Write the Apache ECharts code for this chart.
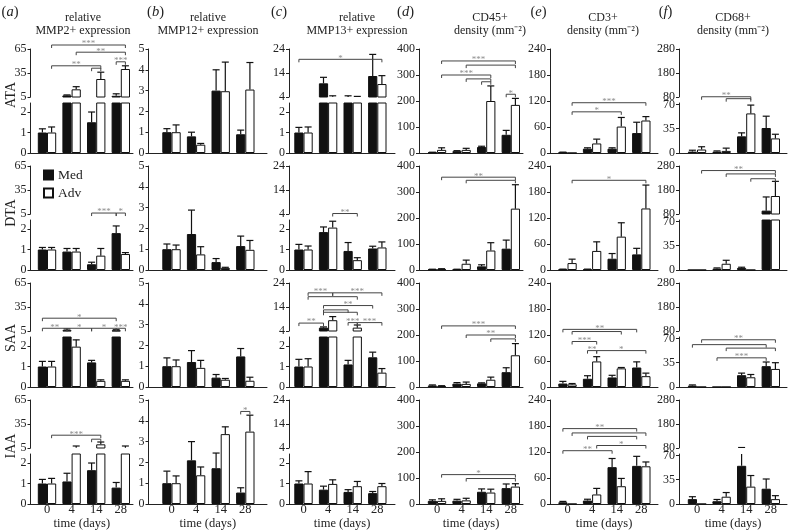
<!DOCTYPE html>
<html><head><meta charset="utf-8">
<script src="https://cdn.jsdelivr.net/npm/echarts@6/dist/echarts.min.js"></script>
<style>html,body{margin:0;padding:0;background:#fff}#c{width:789px;height:531px}</style>
</head><body><div id="c"></div><script>
// ---------------- DATA ----------------
const categories = ['0', '4', '14', '28'];
const rowNames = ['ATA', 'DTA', 'SAA', 'IAA'];
const groupNames = ['Med', 'Adv'];
const panelLetters = ['a', 'b', 'c', 'd', 'e', 'f'];
const panelTitles = [
  ['relative', 'MMP2+ expression'],
  ['relative', 'MMP12+ expression'],
  ['relative', 'MMP13+ expression'],
  ['CD45+', 'density (mm⁻²)'],
  ['CD3+', 'density (mm⁻²)'],
  ['CD68+', 'density (mm⁻²)']
];
const xAxisTitle = 'time (days)';

// (a) MMP2  (rows: ATA, DTA, SAA, IAA; cols: days 0,4,14,28)
const mmp2Med    = [[1.0, 7.0, 1.5, 6.5], [1.0, 0.9, 0.28, 1.8], [1.0, 6.0, 1.2, 5.8], [1.0, 1.1, 1.65, 0.8]];
const mmp2MedErr = [[0.18, 0.6, 0.5, 2.5], [0.1, 0.15, 0.1, 0.35], [0.25, 1.5, 0.1, 0.8], [0.2, 0.4, 0.35, 0.25]];
const mmp2Adv    = [[1.0, 14.6, 27.5, 40], [1.0, 0.9, 0.7, 0.78], [1.0, 1.97, 0.3, 0.3], [1.0, 5.3, 9.6, 5.4]];
const mmp2AdvErr = [[0.27, 3.3, 8.5, 4], [0.1, 0.15, 0.35, 0.07], [0.25, 0.33, 0.05, 0.05], [0.25, 2.2, 2.9, 2.1]];
const mmp2LowTicks = [0, 1, 2];
const mmp2UpTicks = [5, 35, 65];

// (b) MMP12
const mmp12Med    = [[1.0, 0.8, 3.0, 0.9], [1.0, 1.73, 0.38, 1.15], [1.0, 1.2, 0.45, 1.47], [1.0, 2.1, 1.72, 0.55]];
const mmp12MedErr = [[0.17, 0.2, 1.0, 0.2], [0.25, 1.15, 0.17, 0.48], [0.4, 0.55, 0.15, 0.38], [0.58, 0.9, 0.73, 0.23]];
const mmp12Adv    = [[1.0, 0.4, 2.97, 3.05], [1.0, 0.75, 0.1, 0.97], [1.0, 0.92, 0.35, 0.3], [1.0, 1.38, 3.36, 3.48]];
const mmp12AdvErr = [[0.35, 0.06, 1.4, 1.3], [0.2, 0.37, 0.03, 0.45], [0.3, 0.36, 0.06, 0.17], [0.35, 0.4, 0.35, 0.79]];
const mmp12Ticks = [0, 1, 2, 3, 4, 5];

// (c) MMP13
const mmp13Med    = [[1.0, 9.7, 4.0, 12.75], [1.0, 1.85, 0.93, 1.05], [1.0, 5.4, 1.1, 1.45], [1.0, 0.7, 0.59, 0.53]];
const mmp13MedErr = [[0.25, 2.5, 0.5, 9.0], [0.25, 0.25, 0.41, 0.11], [0.35, 0.3, 0.2, 0.25], [0.13, 0.17, 0.11, 0.08]];
const mmp13Adv    = [[1.0, 4.1, 4.1, 9.4], [1.0, 2.07, 0.48, 1.1], [1.0, 8.5, 5.4, 0.7], [1.0, 0.98, 0.87, 0.87]];
const mmp13AdvErr = [[0.27, 0.4, 0.15, 3.5], [0.17, 0.31, 0.12, 0.27], [0.38, 1.5, 1.1, 0.2], [0.58, 0.2, 0.23, 0.13]];
const mmp13LowTicks = [0, 1, 2];
const mmp13UpTicks = [4, 14, 24];

// (d) CD45+
const cd45Med    = [[2, 7, 23, 70], [2, 2, 14, 82], [6, 13, 14, 57], [12, 13, 47, 61]];
const cd45MedErr = [[1, 2, 3, 17], [1, 1, 6, 33], [2, 4, 2, 17], [4, 5, 11, 16]];
const cd45Adv    = [[12, 12, 200, 185], [3, 24, 75, 236], [4, 12, 28, 122], [12, 14, 44, 67]];
const cd45AdvErr = [[8, 6, 58, 25], [2, 14, 30, 92], [1, 7, 10, 45], [8, 8, 13, 11]];
const cd45Ticks = [0, 100, 200, 300, 400];

// (e) CD3+
const cd3Med    = [[1, 10, 10, 46], [1, 1, 26, 36], [8, 19, 22, 45], [4, 8, 85, 88]];
const cd3MedErr = [[1, 2, 2, 25], [1, 1, 12, 14], [5, 7, 5, 13], [2, 3, 20, 22]];
const cd3Adv    = [[0, 22, 61, 75], [16, 44, 77, 142], [6, 59, 43, 25], [0, 22, 41, 87]];
const cd3AdvErr = [[0, 10, 21, 9], [9, 21, 32, 54], [2, 11, 2, 7], [0, 14, 18, 10]];
const cd3Ticks = [0, 60, 120, 180, 240];

// (f) CD68+
const cd68Med    = [[2, 2, 24, 36], [0, 2, 3, 94], [2, 0, 17, 30], [7, 4, 55, 22]];
const cd68MedErr = [[2, 1, 5, 17], [0, 1, 1, 57], [1, 0, 3, 6], [3.5, 2.5, 27, 14]];
const cd68Adv    = [[5, 3, 57, 21], [0, 9, 0, 155], [0, 0, 14, 26], [0, 10.5, 25, 7]];
const cd68AdvErr = [[4, 4, 12, 6], [0, 5, 0, 61], [0, 0, 4, 9], [0, 6, 16, 5]];
const cd68LowTicks = [0, 35, 70];
const cd68UpTicks = [80, 180, 280];

// significance brackets: [row, group1, day1, group2, day2, height, label]
const mmp2Sig = [
  [0, 'A', 0, 'A', 3, 70, '***'], [0, 'A', 1, 'A', 3, 61, '**'], [0, 'A', 0, 'A', 2, 44, '**'],
  [0, 'M', 2, 'A', 2, 41, ''], [0, 'M', 3, 'A', 3, 49, '***'],
  [1, 'M', 2, 'M', 3, 6.2, '***'], [1, 'M', 3, 'A', 3, 6.2, '*'],
  [2, 'M', 0, 'M', 3, 21, '*'], [2, 'M', 0, 'M', 1, 8.4, '**'], [2, 'M', 1, 'M', 2, 8.4, '*'],
  [2, 'M', 2, 'M', 3, 8.4, '*'], [2, 'M', 3, 'A', 3, 8.4, '***'],
  [3, 'A', 0, 'A', 2, 21, '***'], [3, 'M', 2, 'A', 2, 16, '']
];
const mmp12Sig = [[3, 'M', 3, 'A', 3, 4.45, '*']];
const mmp13Sig = [
  [0, 'M', 0, 'A', 3, 19.7, '*'],
  [1, 'A', 1, 'A', 2, 4.2, '**'],
  [2, 'A', 0, 'A', 1, 19.9, '***'], [2, 'A', 1, 'A', 3, 19.9, '***'], [2, 'A', 0, 'A', 2, 18.3, ''],
  [2, 'M', 1, 'M', 3, 14.6, '**'], [2, 'M', 1, 'M', 2, 12.8, ''], [2, 'M', 1, 'A', 2, 11.8, ''],
  [2, 'M', 0, 'M', 1, 7.3, '**'], [2, 'M', 2, 'A', 2, 7.5, '***'], [2, 'A', 2, 'A', 3, 7.5, '***']
];
const cd45Sig = [
  [0, 'A', 0, 'A', 3, 354, '***'], [0, 'A', 1, 'A', 3, 338, ''], [0, 'A', 0, 'A', 2, 300, '***'],
  [0, 'A', 1, 'A', 2, 285, ''], [0, 'M', 2, 'A', 2, 274, ''], [0, 'M', 3, 'A', 3, 226, '*'],
  [1, 'A', 0, 'A', 3, 357, '**'], [1, 'A', 1, 'A', 3, 345, ''],
  [2, 'A', 0, 'A', 3, 235, '***'], [2, 'A', 1, 'A', 3, 200, '**'], [2, 'A', 2, 'A', 3, 185, ''],
  [3, 'A', 0, 'A', 3, 113, '*'], [3, 'A', 1, 'A', 3, 98, '']
];
const cd3Sig = [
  [0, 'A', 0, 'A', 3, 116, '***'], [0, 'A', 0, 'A', 2, 95, '*'],
  [1, 'A', 0, 'A', 3, 207, '*'],
  [2, 'M', 0, 'M', 3, 133, '**'], [2, 'A', 0, 'A', 2, 128, ''], [2, 'A', 0, 'A', 1, 105, '***'],
  [2, 'M', 1, 'A', 1, 84, '**'], [2, 'A', 1, 'A', 3, 84, '*'],
  [3, 'M', 0, 'M', 3, 174, '**'], [3, 'A', 0, 'A', 3, 164, ''], [3, 'M', 1, 'M', 3, 156, ''],
  [3, 'A', 1, 'A', 3, 135, '*'], [3, 'M', 0, 'M', 2, 123, '**']
];
const cd68Sig = [
  [0, 'A', 0, 'A', 2, 81, '**'], [0, 'A', 1, 'A', 2, 73, ''],
  [1, 'A', 0, 'A', 3, 261, '**'], [1, 'A', 1, 'A', 3, 247, ''], [1, 'A', 2, 'A', 3, 227, ''],
  [2, 'A', 0, 'A', 3, 68, '**'], [2, 'M', 0, 'M', 3, 61, ''], [2, 'A', 1, 'A', 3, 56, ''],
  [2, 'M', 1, 'M', 3, 42, '***']
];

// ---------------- LAYOUT ----------------
const FONT = 'Liberation Serif';
const rowTop = [49, 166, 283, 400];
const rowH = 104;
const colAxisX = [30.5, 148.5, 289, 419, 550, 679];
const colFirst = [47, 171.5, 303.5, 437, 567.5, 697];
const colRight = [133, 267, 395, 523, 658, 787];
const SP = 24.6;          // px between day groups
const HALF = 4.6;         // px half bar width
const D = HALF / SP;

const columns = [
  {med: mmp2Med, medErr: mmp2MedErr, adv: mmp2Adv, advErr: mmp2AdvErr, sig: mmp2Sig,
   broken: true, lowMax: 2.44, lowTicks: mmp2LowTicks, upTicks: mmp2UpTicks},
  {med: mmp12Med, medErr: mmp12MedErr, adv: mmp12Adv, advErr: mmp12AdvErr, sig: mmp12Sig,
   broken: false, ticks: mmp12Ticks},
  {med: mmp13Med, medErr: mmp13MedErr, adv: mmp13Adv, advErr: mmp13AdvErr, sig: mmp13Sig,
   broken: true, lowMax: 2.44, lowTicks: mmp13LowTicks, upTicks: mmp13UpTicks},
  {med: cd45Med, medErr: cd45MedErr, adv: cd45Adv, advErr: cd45AdvErr, sig: cd45Sig,
   broken: false, ticks: cd45Ticks},
  {med: cd3Med, medErr: cd3MedErr, adv: cd3Adv, advErr: cd3AdvErr, sig: cd3Sig,
   broken: false, ticks: cd3Ticks},
  {med: cd68Med, medErr: cd68MedErr, adv: cd68Adv, advErr: cd68AdvErr, sig: cd68Sig,
   broken: true, lowMax: 72, lowTicks: cd68LowTicks, upTicks: cd68UpTicks}
];

const grid = [], xAxis = [], yAxis = [], series = [];

function addGrid(ci, top, height, yMin, yMax, ticks, showXLine, showXLabels) {
  const idx = grid.length;
  const left = colAxisX[ci], width = colRight[ci] - colAxisX[ci];
  const xmin = -(colFirst[ci] - colAxisX[ci]) / SP;
  const xmax = 3 + (colRight[ci] - colFirst[ci] - 3 * SP) / SP;
  grid.push({left: left, top: top, width: width, height: height, containLabel: false, outerBoundsMode: 'none'});
  xAxis.push({
    gridIndex: idx, type: 'value', min: xmin, max: xmax, show: showXLine,
    axisLine: {show: true, onZero: false, lineStyle: {color: '#222', width: 1}},
    axisTick: {show: false}, splitLine: {show: false},
    axisLabel: {show: showXLabels, customValues: [0, 1, 2, 3],
      formatter: v => categories[Math.round(v)] || '',
      fontFamily: FONT, fontSize: 12.5, color: '#222', margin: -1},
    name: showXLabels ? xAxisTitle : '', nameLocation: 'middle', nameGap: 8,
    nameTextStyle: {fontFamily: FONT, fontSize: 12.5, color: '#222'}
  });
  yAxis.push({
    gridIndex: idx, type: 'value', min: yMin, max: yMax,
    axisLine: {show: true, onZero: false, lineStyle: {color: '#222', width: 1}},
    axisTick: {show: true, inside: false, length: 3, customValues: ticks, lineStyle: {color: '#222'}},
    axisLabel: {customValues: ticks, fontFamily: FONT, fontSize: 12, color: '#222', margin: 4},
    splitLine: {show: false}
  });
  return idx;
}

function addBars(gi, col, r) {
  series.push({
    type: 'bar', name: groupNames[0], xAxisIndex: gi, yAxisIndex: gi, barWidth: HALF * 2, barGap: '-100%',
    clip: true, silent: true,
    itemStyle: {color: '#111', borderColor: '#111', borderWidth: 1},
    data: col.med[r].map((v, k) => [k - D, v])
  });
  series.push({
    type: 'bar', name: groupNames[1], xAxisIndex: gi, yAxisIndex: gi, barWidth: HALF * 2, barGap: '-100%',
    clip: true, silent: true,
    itemStyle: {color: '#fff', borderColor: '#111', borderWidth: 1},
    data: col.adv[r].map((v, k) => [k + D, v])
  });
  const errData = [];
  col.med[r].forEach((v, k) => errData.push([k - D, v, col.medErr[r][k]]));
  col.adv[r].forEach((v, k) => errData.push([k + D, v, col.advErr[r][k]]));
  series.push({
    type: 'custom', xAxisIndex: gi, yAxisIndex: gi, clip: true, silent: true, z: 3,
    encode: {x: 0, y: 1},
    data: errData,
    renderItem: (params, api) => {
      const x = api.value(0), v = api.value(1), e = api.value(2);
      if (!(e > 0)) return null;
      const p0 = api.coord([x, v]), p1 = api.coord([x, v + e]);
      return {type: 'group', children: [
        {type: 'line', shape: {x1: p0[0], y1: p0[1], x2: p1[0], y2: p1[1]}, style: {stroke: '#111', lineWidth: 1.2}},
        {type: 'line', shape: {x1: p1[0] - 3.5, y1: p1[1], x2: p1[0] + 3.5, y2: p1[1]}, style: {stroke: '#111', lineWidth: 1.2}}
      ]};
    }
  });
}

function addBrackets(gi, list) {
  if (!list.length) return;
  const labels = list.map(b => b[6]);
  series.push({
    type: 'custom', xAxisIndex: gi, yAxisIndex: gi, clip: false, silent: true, z: 4,
    encode: {x: [0, 1], y: 2},
    data: list.map(b => [b[2] + (b[1] === 'M' ? -D : D), b[4] + (b[3] === 'M' ? -D : D), b[5]]),
    renderItem: (params, api) => {
      const p1 = api.coord([api.value(0), api.value(2)]);
      const p2 = api.coord([api.value(1), api.value(2)]);
      const y = p1[1];
      const children = [{
        type: 'polyline',
        shape: {points: [[p1[0], y + 3], [p1[0], y], [p2[0], y], [p2[0], y + 3]]},
        style: {stroke: '#444', lineWidth: 1, fill: null}
      }];
      const lab = labels[params.dataIndex];
      if (lab) children.push({
        type: 'text', x: (p1[0] + p2[0]) / 2, y: y - 1,
        style: {text: lab, fill: '#8c8c8c', font: '9px "Liberation Serif"',
          textAlign: 'center', textVerticalAlign: 'middle', align: 'center', verticalAlign: 'middle'}
      });
      return {type: 'group', children: children};
    }
  });
}

columns.forEach((col, ci) => {
  for (let r = 0; r < 4; r++) {
    const bottom = r === 3;
    const sigs = col.sig.filter(s => s[0] === r);
    if (col.broken) {
      const up = col.upTicks;
      const iu = addGrid(ci, rowTop[r], 48, up[0], up[up.length - 1], up, false, false);
      const il = addGrid(ci, rowTop[r] + 54, 50, 0, col.lowMax, col.lowTicks, true, bottom);
      addBars(iu, col, r);
      addBars(il, col, r);
      addBrackets(iu, sigs.filter(s => s[5] >= col.lowMax));
      addBrackets(il, sigs.filter(s => s[5] < col.lowMax));
    } else {
      const t = col.ticks;
      const ig = addGrid(ci, rowTop[r], rowH, 0, t[t.length - 1], t, true, bottom);
      addBars(ig, col, r);
      addBrackets(ig, sigs);
    }
  }
});

// ---------------- TEXT ----------------
const graphic = [];
const letterX = [10, 155.5, 279, 405.5, 538.5, 665.5];
const titleX = [83, 208, 357, 490, 603, 733];
panelLetters.forEach((l, i) => {
  graphic.push({type: 'text', x: letterX[i], y: 12, style: {
    text: '{p|(}{i|' + l + '}{p|)}', textAlign: 'center', textVerticalAlign: 'middle', align: 'center', verticalAlign: 'middle',
    rich: {p: {fontFamily: FONT, fontSize: 14.5, fill: '#222', color: '#222'},
           i: {fontFamily: FONT, fontSize: 14.5, fontStyle: 'italic', fill: '#222', color: '#222'}}
  }});
  panelTitles[i].forEach((t, j) => {
    graphic.push({type: 'text', x: titleX[i], y: 17.5 + j * 13.5, style: {
      text: t, font: '12px "Liberation Serif"', fill: '#222',
      textAlign: 'center', textVerticalAlign: 'middle', align: 'center', verticalAlign: 'middle'}});
  });
});
const rowLabelY = [95, 213, 338, 446];
rowNames.forEach((n, i) => {
  graphic.push({type: 'text', x: 11.5, y: rowLabelY[i], rotation: Math.PI / 2, style: {
    text: n, font: '14px "Liberation Serif"', fill: '#222',
    textAlign: 'center', textVerticalAlign: 'middle', align: 'center', verticalAlign: 'middle'}});
});

const chart = echarts.init(document.getElementById('c'), null, {renderer: 'canvas', width: 789, height: 531});
chart.setOption({
  animation: false,
  backgroundColor: '#fff',
  textStyle: {fontFamily: FONT},
  grid: grid, xAxis: xAxis, yAxis: yAxis, series: series,
  legend: {
    data: groupNames, left: 38, top: 163, orient: 'vertical', icon: 'rect',
    itemWidth: 9, itemHeight: 9, itemGap: 4, selectedMode: false,
    textStyle: {fontFamily: FONT, fontSize: 13.5, color: '#222'}
  },
  graphic: graphic
});
</script></body></html>
